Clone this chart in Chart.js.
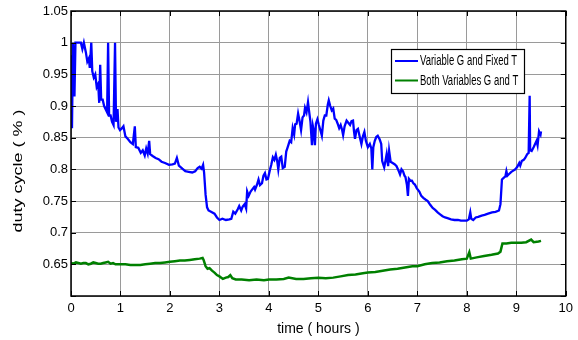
<!DOCTYPE html>
<html>
<head>
<meta charset="utf-8">
<script src="https://cdn.jsdelivr.net/npm/chart.js@4.4.0/dist/chart.umd.min.js"></script>
<style>
  html, body { margin: 0; padding: 0; background: #fff; }
  #wrap { width: 578px; height: 340px; }
</style>
</head>
<body>
<div id="wrap"><canvas id="dutyChart"></canvas></div>
<script>
const seriesLabels = ['Variable G and Fixed T', 'Both Variables G and T'];
const seriesColors = ['#0000ff', '#008000'];

// variable G, fixed T
const blueTime = [
  0.00, 0.02, 0.04, 0.07, 0.09, 0.15, 0.20, 0.23, 0.26, 0.30, 0.33, 0.36, 0.38, 0.41, 0.43, 0.46, 0.49, 0.52, 0.55, 0.57,
  0.59, 0.61, 0.64, 0.67, 0.70, 0.73, 0.75, 0.77, 0.80, 0.83, 0.86, 0.89, 0.91, 0.94, 0.96, 0.99, 1.03, 1.06, 1.10, 1.15,
  1.20, 1.25, 1.29, 1.31, 1.36, 1.41, 1.45, 1.49, 1.52, 1.55, 1.58, 1.60, 1.65, 1.71, 1.77, 1.83, 1.90, 1.98, 2.05, 2.10,
  2.14, 2.18, 2.25, 2.31, 2.38, 2.45, 2.51, 2.56, 2.60, 2.64, 2.67, 2.69, 2.72, 2.75, 2.78, 2.83, 2.90, 2.95, 3.00, 3.06,
  3.13, 3.20, 3.24, 3.28, 3.32, 3.37, 3.40, 3.44, 3.47, 3.51, 3.54, 3.56, 3.59, 3.63, 3.66, 3.70, 3.72, 3.76, 3.79, 3.82,
  3.86, 3.89, 3.92, 3.95, 3.98, 4.02, 4.05, 4.08, 4.11, 4.14, 4.17, 4.19, 4.22, 4.25, 4.28, 4.32, 4.35, 4.38, 4.42, 4.45,
  4.48, 4.51, 4.53, 4.56, 4.59, 4.62, 4.65, 4.68, 4.71, 4.73, 4.76, 4.79, 4.81, 4.84, 4.87, 4.89, 4.91, 4.93, 4.95, 4.98,
  5.01, 5.04, 5.07, 5.10, 5.13, 5.16, 5.19, 5.21, 5.24, 5.27, 5.30, 5.33, 5.36, 5.39, 5.42, 5.45, 5.48, 5.50, 5.53, 5.57,
  5.60, 5.64, 5.67, 5.70, 5.72, 5.74, 5.77, 5.80, 5.84, 5.87, 5.90, 5.93, 5.96, 6.00, 6.04, 6.07, 6.09, 6.11, 6.14, 6.17,
  6.20, 6.24, 6.27, 6.29, 6.33, 6.36, 6.38, 6.41, 6.43, 6.46, 6.50, 6.54, 6.58, 6.62, 6.65, 6.68, 6.71, 6.74, 6.76, 6.79,
  6.81, 6.83, 6.86, 6.89, 6.92, 6.95, 6.99, 7.04, 7.08, 7.12, 7.17, 7.21, 7.26, 7.31, 7.36, 7.41, 7.46, 7.51, 7.56, 7.61,
  7.68, 7.75, 7.82, 7.88, 7.94, 8.00, 8.04, 8.07, 8.09, 8.13, 8.18, 8.23, 8.30, 8.36, 8.43, 8.51, 8.58, 8.65, 8.68, 8.71,
  8.75, 8.78, 8.80, 8.82, 8.86, 8.90, 8.94, 8.98, 9.02, 9.06, 9.08, 9.11, 9.15, 9.18, 9.22, 9.25, 9.27, 9.28, 9.31, 9.35,
  9.38, 9.41, 9.43, 9.46, 9.49, 9.50
];
const blueDuty = [
  0.980, 0.865, 1.000, 0.915, 1.000, 1.000, 1.000, 0.990, 1.000, 0.985, 0.970, 0.975, 0.960, 1.000, 0.955, 0.945, 0.950, 0.930, 0.935, 0.905,
  0.965, 0.910, 0.910, 0.900, 0.895, 0.890, 1.000, 0.885, 0.885, 0.875, 0.870, 1.000, 0.875, 0.895, 0.866, 0.862, 0.865, 0.868, 0.852, 0.848,
  0.843, 0.840, 0.868, 0.835, 0.834, 0.826, 0.830, 0.822, 0.833, 0.825, 0.845, 0.824, 0.821, 0.818, 0.816, 0.812, 0.810, 0.807, 0.808, 0.809,
  0.818, 0.806, 0.801, 0.797, 0.796, 0.795, 0.797, 0.802, 0.804, 0.801, 0.807, 0.795, 0.760, 0.740, 0.735, 0.733, 0.730, 0.724, 0.720, 0.722,
  0.720, 0.721, 0.722, 0.733, 0.730, 0.737, 0.742, 0.735, 0.741, 0.745, 0.738, 0.765, 0.758, 0.765, 0.768, 0.772, 0.768, 0.776, 0.784, 0.775,
  0.778, 0.790, 0.794, 0.784, 0.785, 0.799, 0.808, 0.819, 0.815, 0.823, 0.812, 0.800, 0.818, 0.820, 0.802, 0.804, 0.828, 0.835, 0.845, 0.843,
  0.865, 0.855, 0.871, 0.872, 0.888, 0.876, 0.862, 0.882, 0.885, 0.897, 0.890, 0.906, 0.893, 0.875, 0.838, 0.868, 0.860, 0.838, 0.872, 0.879,
  0.870, 0.862, 0.853, 0.877, 0.885, 0.885, 0.902, 0.909, 0.900, 0.893, 0.896, 0.880, 0.878, 0.872, 0.865, 0.870, 0.862, 0.854, 0.868, 0.877,
  0.874, 0.870, 0.876, 0.877, 0.860, 0.848, 0.862, 0.864, 0.850, 0.840, 0.852, 0.859, 0.845, 0.835, 0.840, 0.833, 0.800, 0.835, 0.845, 0.851,
  0.853, 0.847, 0.840, 0.813, 0.803, 0.815, 0.824, 0.805, 0.829, 0.812, 0.810, 0.808, 0.805, 0.798, 0.792, 0.800, 0.797, 0.790, 0.788, 0.775,
  0.758, 0.785, 0.782, 0.782, 0.778, 0.776, 0.770, 0.765, 0.758, 0.755, 0.752, 0.750, 0.744, 0.739, 0.736, 0.732, 0.729, 0.726, 0.724, 0.723,
  0.721, 0.720, 0.720, 0.719, 0.719, 0.719, 0.721, 0.732, 0.722, 0.720, 0.724, 0.725, 0.727, 0.728, 0.730, 0.732, 0.733, 0.735, 0.745, 0.784,
  0.787, 0.789, 0.797, 0.790, 0.793, 0.796, 0.798, 0.800, 0.804, 0.810, 0.806, 0.813, 0.815, 0.818, 0.824, 0.826, 0.916, 0.830, 0.829, 0.835,
  0.840, 0.845, 0.838, 0.860, 0.855, 0.860
];

// both G and T variable
const greenTime = [
  0.00, 0.05, 0.10, 0.15, 0.20, 0.25, 0.30, 0.35, 0.40, 0.45, 0.50, 0.55, 0.60, 0.65, 0.70, 0.75, 0.80, 0.85, 0.90, 1.00,
  1.10, 1.20, 1.30, 1.40, 1.50, 1.60, 1.70, 1.80, 1.90, 2.00, 2.10, 2.20, 2.30, 2.40, 2.50, 2.60, 2.66, 2.68, 2.72, 2.76,
  2.80, 2.85, 2.90, 2.95, 3.00, 3.07, 3.13, 3.18, 3.22, 3.26, 3.33, 3.45, 3.60, 3.75, 3.90, 4.00, 4.15, 4.30, 4.40, 4.55,
  4.70, 4.85, 5.00, 5.15, 5.30, 5.45, 5.60, 5.75, 5.90, 6.00, 6.15, 6.30, 6.45, 6.60, 6.75, 6.90, 7.00, 7.15, 7.30, 7.45,
  7.60, 7.75, 7.90, 8.00, 8.05, 8.08, 8.20, 8.35, 8.50, 8.63, 8.68, 8.72, 8.80, 8.90, 9.00, 9.10, 9.20, 9.30, 9.35, 9.45,
  9.50
];
const greenDuty = [
  0.652, 0.651, 0.653, 0.652, 0.651, 0.652, 0.652, 0.650, 0.651, 0.653, 0.652, 0.651, 0.651, 0.652, 0.653, 0.654, 0.651, 0.652, 0.650, 0.650,
  0.650, 0.649, 0.649, 0.649, 0.650, 0.651, 0.652, 0.652, 0.653, 0.654, 0.655, 0.656, 0.656, 0.657, 0.658, 0.659, 0.660, 0.657, 0.647, 0.643,
  0.644, 0.640, 0.637, 0.633, 0.631, 0.627, 0.629, 0.630, 0.633, 0.628, 0.626, 0.626, 0.625, 0.626, 0.625, 0.626, 0.626, 0.627, 0.629, 0.627,
  0.627, 0.628, 0.629, 0.628, 0.629, 0.631, 0.633, 0.634, 0.636, 0.637, 0.638, 0.640, 0.642, 0.643, 0.645, 0.647, 0.647, 0.650, 0.652, 0.653,
  0.655, 0.656, 0.658, 0.659, 0.669, 0.659, 0.661, 0.663, 0.665, 0.667, 0.670, 0.683, 0.683, 0.684, 0.684, 0.684, 0.685, 0.689, 0.685, 0.686,
  0.687
];

const xMin = 0, xMax = 10, xStep = 1;
const yMin = 0.6, yMax = 1.05, yStep = 0.05;

const narrow = '"Liberation Sans Narrow", "Arial Narrow", "Liberation Sans", Arial, sans-serif';
const plain = '"Liberation Sans", Arial, sans-serif';

const toPoints = (xs, ys) => xs.map((x, i) => ({ x: x, y: ys[i] }));

// box, inward ticks, rotated y title and the legend panel
const framePlugin = {
  id: 'frame',
  afterDraw(chart) {
    const { ctx, chartArea: a, scales } = chart;
    ctx.save();
    ctx.strokeStyle = '#000';
    ctx.lineWidth = 1;
    ctx.beginPath();
    scales.x.ticks.forEach(t => {
      const x = Math.round(scales.x.getPixelForValue(t.value)) + 0.5;
      ctx.moveTo(x, a.bottom); ctx.lineTo(x, a.bottom - 5);
      ctx.moveTo(x, a.top); ctx.lineTo(x, a.top + 5);
    });
    scales.y.ticks.forEach(t => {
      const y = Math.round(scales.y.getPixelForValue(t.value)) + 0.5;
      ctx.moveTo(a.left, y); ctx.lineTo(a.left + 5, y);
      ctx.moveTo(a.right, y); ctx.lineTo(a.right - 5, y);
    });
    ctx.stroke();
    ctx.lineWidth = 1.5;
    ctx.strokeRect(a.left, a.top, a.right - a.left, a.bottom - a.top);

    // y axis title
    ctx.save();
    ctx.translate(18, 171);
    ctx.rotate(-Math.PI / 2);
    ctx.scale(1, 0.75);
    ctx.fillStyle = '#000';
    ctx.font = '18px ' + plain;
    ctx.textAlign = 'center';
    ctx.textBaseline = 'middle';
    ctx.fillText('duty cycle ( % )', 0, 0);
    ctx.restore();

    // legend
    const lx = 391, ly = 49, lw = 133, lh = 44;
    ctx.fillStyle = '#fff';
    ctx.fillRect(lx, ly, lw, lh);
    ctx.lineWidth = 1.2;
    ctx.strokeStyle = '#000';
    ctx.strokeRect(lx + 0.5, ly + 0.5, lw, lh);
    chart.data.datasets.forEach((ds, i) => {
      const ry = ly + 12 + i * 19.5;
      ctx.strokeStyle = ds.borderColor;
      ctx.lineWidth = 2;
      ctx.beginPath();
      ctx.moveTo(lx + 4, ry); ctx.lineTo(lx + 27, ry);
      ctx.stroke();
      ctx.save();
      ctx.translate(lx + 29, ry);
      ctx.scale(0.68, 1);
      ctx.fillStyle = '#000';
      ctx.font = '14px ' + plain;
      ctx.textBaseline = 'middle';
      ctx.fillText(ds.label, 0, 0.5);
      ctx.restore();
    });
    ctx.restore();
  }
};

new Chart(document.getElementById('dutyChart'), {
  type: 'line',
  data: {
    datasets: [
      {
        label: seriesLabels[0],
        data: toPoints(blueTime, blueDuty),
        borderColor: seriesColors[0],
        borderWidth: 2.3,
        pointRadius: 0,
        tension: 0
      },
      {
        label: seriesLabels[1],
        data: toPoints(greenTime, greenDuty),
        borderColor: seriesColors[1],
        borderWidth: 2.5,
        pointRadius: 0,
        tension: 0
      }
    ]
  },
  options: {
    responsive: true,
    maintainAspectRatio: false,
    animation: false,
    layout: { padding: { top: 11, right: 6, left: 0, bottom: 0 } },
    plugins: {
      legend: { display: false },
      tooltip: { enabled: false }
    },
    scales: {
      x: {
        type: 'linear',
        min: xMin,
        max: xMax,
        afterFit: s => { s.height = 44; },
        ticks: {
          stepSize: xStep,
          color: '#000',
          padding: 5,
          font: { family: narrow, size: 13 },
          maxRotation: 0
        },
        grid: { color: '#9a9a9a', lineWidth: 1, drawTicks: false },
        border: { display: false },
        title: {
          display: true,
          text: 'time ( hours )',
          color: '#000',
          font: { family: narrow, size: 14 },
          padding: { top: 0, bottom: 2 }
        }
      },
      y: {
        min: yMin,
        max: yMax,
        afterFit: s => { s.width = 71; },
        ticks: {
          stepSize: yStep,
          color: '#000',
          padding: 3,
          font: { family: narrow, size: 13 },
          callback: v => (Math.abs(v - yMin) < 1e-6 ? '' : String(+v.toFixed(2)))
        },
        grid: { color: '#9a9a9a', lineWidth: 1, drawTicks: false },
        border: { display: false }
      }
    }
  },
  plugins: [framePlugin]
});
</script>
</body>
</html>
